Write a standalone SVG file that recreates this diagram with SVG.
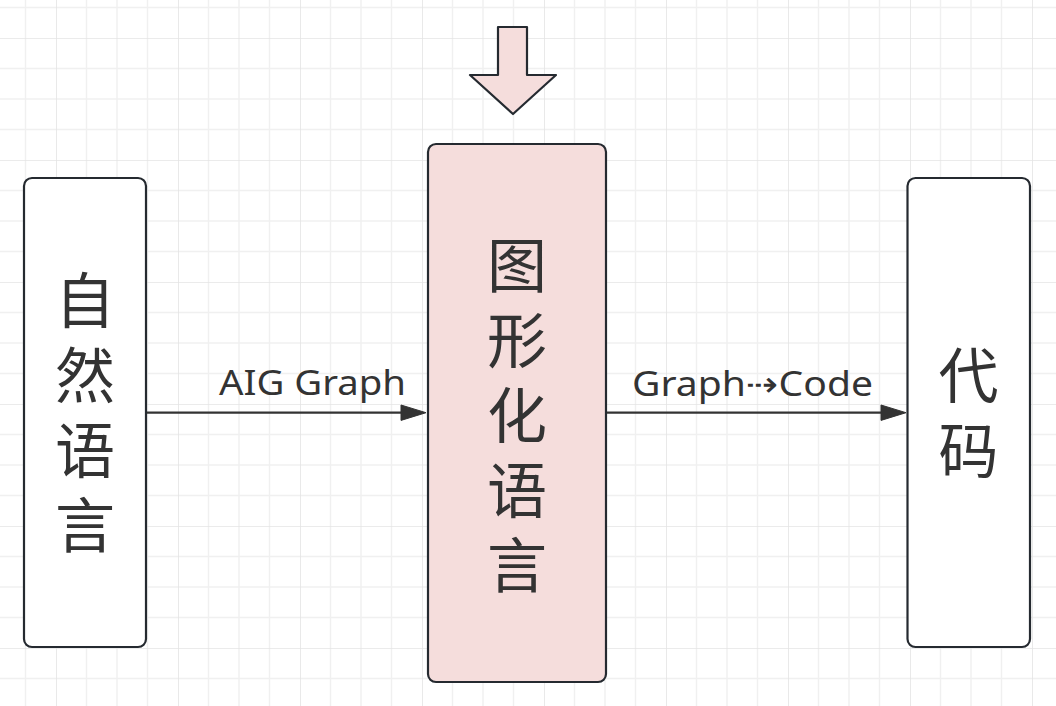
<svg xmlns="http://www.w3.org/2000/svg" width="1056" height="706" viewBox="0 0 1056 706">
  <style>
    .box { stroke: #252a30; stroke-width: 2.2; }
    .plain { fill: #ffffff; }
    .pink { fill: #f5dddc; }
    .cjk { font-family: "Noto Sans CJK SC", "Noto Sans", sans-serif; font-size: 60px; fill: #333333; text-anchor: middle; writing-mode: vertical-rl; letter-spacing: 15px; }
    .lbl { font-family: "Noto Sans", "Open Sans", "DejaVu Sans", sans-serif; font-size: 35px; fill: #333333; }
    .edge { stroke: #333333; stroke-width: 2.2; fill: none; }
    .head { fill: #333333; stroke: #333333; stroke-width: 1; stroke-linejoin: miter; }
  </style>
  <defs>
    <pattern id="grid" patternUnits="userSpaceOnUse" x="56" y="38" width="122" height="122">
      <g stroke="#f0f0f0" stroke-width="1.4">
        <line x1="30.5" y1="0" x2="30.5" y2="122"/>
        <line x1="61" y1="0" x2="61" y2="122"/>
        <line x1="91.5" y1="0" x2="91.5" y2="122"/>
        <line x1="0" y1="30.5" x2="122" y2="30.5"/>
        <line x1="0" y1="61" x2="122" y2="61"/>
        <line x1="0" y1="91.5" x2="122" y2="91.5"/>
      </g>
      <g stroke="#e4e4e4" stroke-width="1.6">
        <line x1="0" y1="0" x2="0" y2="122"/>
        <line x1="0" y1="0" x2="122" y2="0"/>
      </g>
    </pattern>
  </defs>
  <rect x="0" y="0" width="1056" height="706" fill="#ffffff"/>
  <rect x="0" y="0" width="1056" height="706" fill="url(#grid)"/>

  <g id="connectors">
    <line class="edge" x1="146" y1="412.7" x2="404" y2="412.7"/>
    <polygon class="head" points="401,405 426,412.7 401,420.4"/>
    <text class="lbl" x="219" y="395" textLength="187" lengthAdjust="spacingAndGlyphs">AIG Graph</text>
    <line class="edge" x1="606" y1="412.7" x2="884" y2="412.7"/>
    <polygon class="head" points="881,405 906,412.7 881,420.4"/>
    <text class="lbl" x="632" y="396" textLength="241" lengthAdjust="spacingAndGlyphs">Graph⇢Code</text>
  </g>

  <g id="node-natural-language">
    <rect class="box plain" x="24" y="178" width="122" height="469" rx="8" ry="8"/>
    <text class="cjk" x="85" y="420">自然语言</text>
  </g>

  <g id="node-graphical-language">
    <rect class="box pink" x="428" y="144" width="178" height="538" rx="8" ry="8"/>
    <text class="cjk" x="517" y="422.5">图形化语言</text>
  </g>

  <g id="node-code">
    <rect class="box plain" x="907.5" y="178" width="122.5" height="469" rx="8" ry="8"/>
    <text class="cjk" x="968.5" y="420.5">代码</text>
  </g>

  <g id="node-down-arrow">
    <polygon class="box pink" stroke-linejoin="round" points="498,27 527,27 527,75 556,75 513,114 470,75 498,75"/>
  </g>
</svg>
